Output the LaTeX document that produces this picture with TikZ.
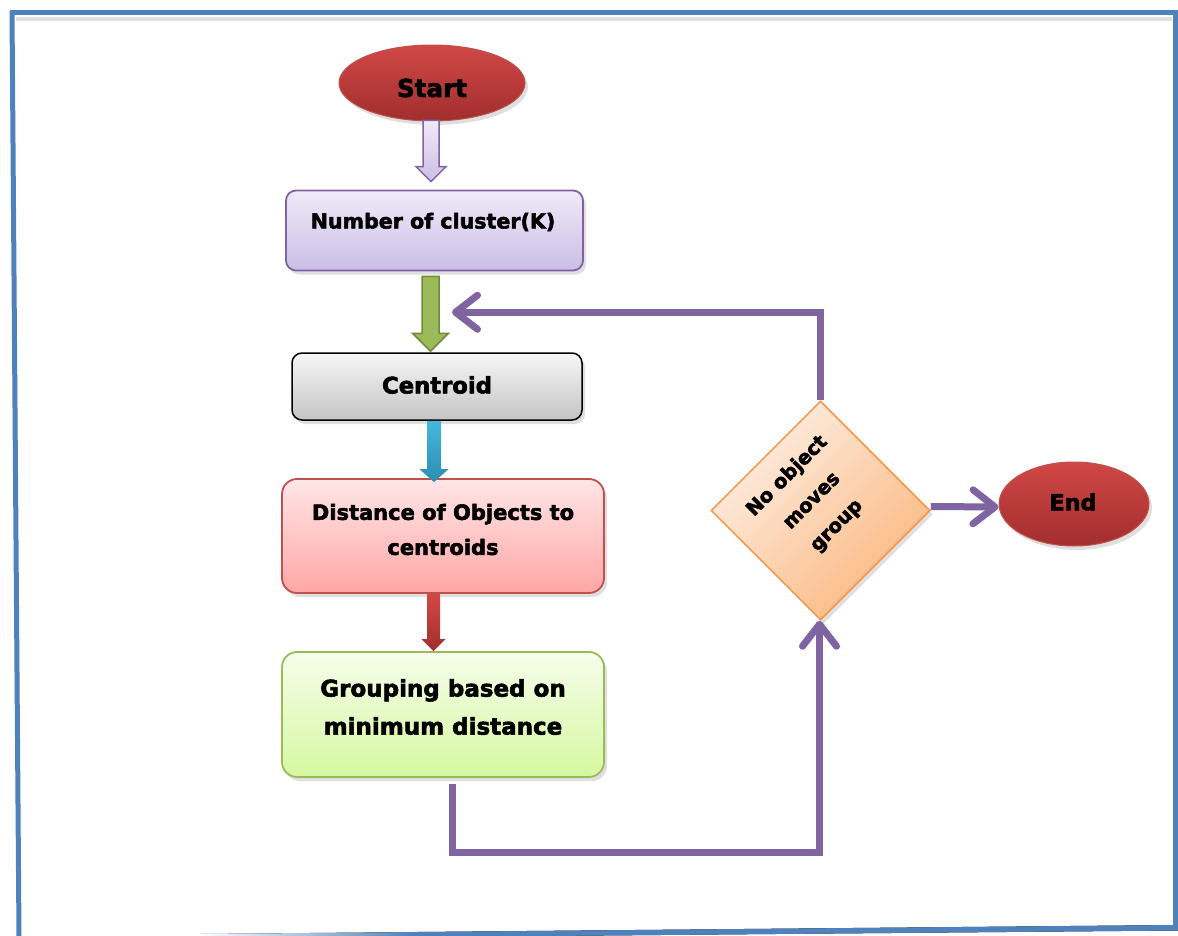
\documentclass[tikz,border=0pt]{standalone}
\usepackage{fontspec}
\setmainfont{DejaVu Sans}[BoldFont=DejaVu Sans Bold, BoldFeatures={FakeBold=2.5}]
\usetikzlibrary{shapes.geometric,arrows.meta,calc,shadows}
\definecolor{frameblue}{HTML}{4F81BD}
\definecolor{purp}{HTML}{8064A2}
\definecolor{redTop}{HTML}{D04846}
\definecolor{redBot}{HTML}{A22E2E}
\definecolor{redLine}{HTML}{C0504D}
\definecolor{lavTop}{HTML}{F0EAF8}
\definecolor{lavBot}{HTML}{CBBEE6}
\definecolor{grayTop}{HTML}{F7F7F7}
\definecolor{grayBot}{HTML}{C4C4C4}
\definecolor{pinkTop}{HTML}{FFE6E6}
\definecolor{pinkBot}{HTML}{FFA6A6}
\definecolor{grnTop}{HTML}{F5FDEB}
\definecolor{grnBot}{HTML}{D6F8A0}
\definecolor{grnLine}{HTML}{9BBB59}
\definecolor{grnDark}{HTML}{71893A}
\definecolor{diaTop}{HTML}{FEEFE4}
\definecolor{diaBot}{HTML}{FBB880}
\definecolor{diaLine}{HTML}{F79646}
\definecolor{cyanTop}{HTML}{45B8DA}
\definecolor{cyanBot}{HTML}{2C8DB3}
\pgfdeclarehorizontalshading{fadeblue}{100bp}{color(0bp)=(white); color(25bp)=(white); color(36bp)=(frameblue); color(100bp)=(frameblue)}
\newcommand\blockarr[6]{%
  \path[#1] let \p1=#2, \p2=#3 in
    (\x1-#4,\y1) -- (\x1-#4,\y2+#6) -- (\x1-#5,\y2+#6) -- (\x1,\y2)
    -- (\x1+#5,\y2+#6) -- (\x1+#4,\y2+#6) -- (\x1+#4,\y1) -- cycle;}
\tikzset{
  sh/.style={drop shadow={opacity=0.25, shadow xshift=3pt, shadow yshift=-4pt}},
  rbox/.style={rectangle, rounded corners=13pt, line width=1.8pt, inner sep=0pt, sh},
  oval/.style={ellipse, inner sep=0pt, draw=redLine, line width=1pt, top color=redTop, bottom color=redBot, sh},
  txt/.style={align=center, inner sep=0pt},
  flow/.style={draw=purp, line width=7pt, -{Straight Barb[length=22pt,width=34pt,round]}},
}
\begin{document}
\begin{tikzpicture}[x=1pt,y=-1pt]
\useasboundingbox (0,0) rectangle (1178,936);
% frame
\draw[black!12, line width=4pt] (16,19) -- (1172,19);
\draw[frameblue, line width=5pt] (10,13) -- (1178,13);
\draw[frameblue, line width=5pt] (12,11) -- (19,936);
\draw[frameblue, line width=5pt] (1175.5,11) -- (1175.5,928);
\fill[shading=fadeblue] (200,934) -- (1178,925) -- (1178,930.5) -- (200,939) -- cycle;

% nodes
\node[oval, minimum width=186pt, minimum height=76pt] (start) at (432,83) {};
\node[txt, font=\bfseries\fontsize{24.6}{30}\selectfont] (startT) at (432,88) {Start};

\node[rbox, rounded corners=10pt, minimum width=297pt, minimum height=80pt, draw=purp, top color=lavTop, bottom color=lavBot] (num) at (434.5,230.5) {};
\node[txt, font=\bfseries\fontsize{20.6}{30}\selectfont] (numT) at (433,222) {Number of cluster(K)};

\node[rbox, rounded corners=10pt, minimum width=290pt, minimum height=67pt, draw=black, line width=1.5pt, top color=grayTop, bottom color=grayBot] (cent) at (437,386.5) {};
\node[txt, font=\bfseries\fontsize{22.7}{30}\selectfont] (centT) at (437,385) {Centroid};

\node[rbox, rounded corners=15pt, minimum width=322pt, minimum height=114pt, draw=redLine, top color=pinkTop, bottom color=pinkBot] (dist) at (443,536) {};
\node[txt, font=\bfseries\fontsize{21}{35}\selectfont] (distT) at (443,529.5) {Distance of Objects to\\centroids};

\node[rbox, rounded corners=15pt, minimum width=322pt, minimum height=125pt, draw=grnLine, top color=grnTop, bottom color=grnBot] (group) at (443,714.5) {};
\node[txt, font=\bfseries\fontsize{23}{38}\selectfont] (groupT) at (443,707) {Grouping based on\\minimum distance};

\node[diamond, minimum width=219pt, minimum height=219pt, inner sep=0pt, draw=diaLine, line width=1.5pt, top color=diaTop, bottom color=diaBot, shading angle=45, sh] (dia) at (820.5,510.5) {};
\node[txt, rotate=45, font=\bfseries\fontsize{19.5}{35}\selectfont] (diaT) at (812,501) {No object\\moves\\group};

\node[oval, minimum width=150pt, minimum height=84pt] (endn) at (1074,504) {};
\node[txt, font=\bfseries\fontsize{22.3}{30}\selectfont] (endT) at (1073,502) {End};

% block arrows
\blockarr{draw=purp, line width=1.5pt, top color=lavTop, bottom color=lavBot}{($(start.south)+(-1,-1)$)}{($(num.north)+(-3,-8)$)}{8pt}{15pt}{15pt}
\blockarr{draw=grnDark, line width=1.5pt, fill=grnLine}{($(num.south)+(-4,5)$)}{($(cent.north)+(0,-1)$)}{8.5pt}{18pt}{18pt}
\blockarr{draw=none, top color=cyanTop, bottom color=cyanBot}{($(cent.south)+(-3,0)$)}{($(dist.north)+(0,4)$)}{7pt}{14.5pt}{13pt}
\blockarr{draw=none, top color=redTop, bottom color=redBot}{($(dist.south)+(-9.5,0)$)}{($(group.north)+(0,0)$)}{6.5pt}{12pt}{12pt}

% connectors
\draw[flow] ($(group.south)+(9,6)$) -- ++(0,69) -| ($(dia.south)+(-1,0)$);
\draw[flow] (dia.north) |- ($(cent.north)+(15,-40)$);
\draw[flow] ($(dia.east)+(0,-4)$) -- ($(endn.west)+(0,3)$);
\end{tikzpicture}
\end{document}
